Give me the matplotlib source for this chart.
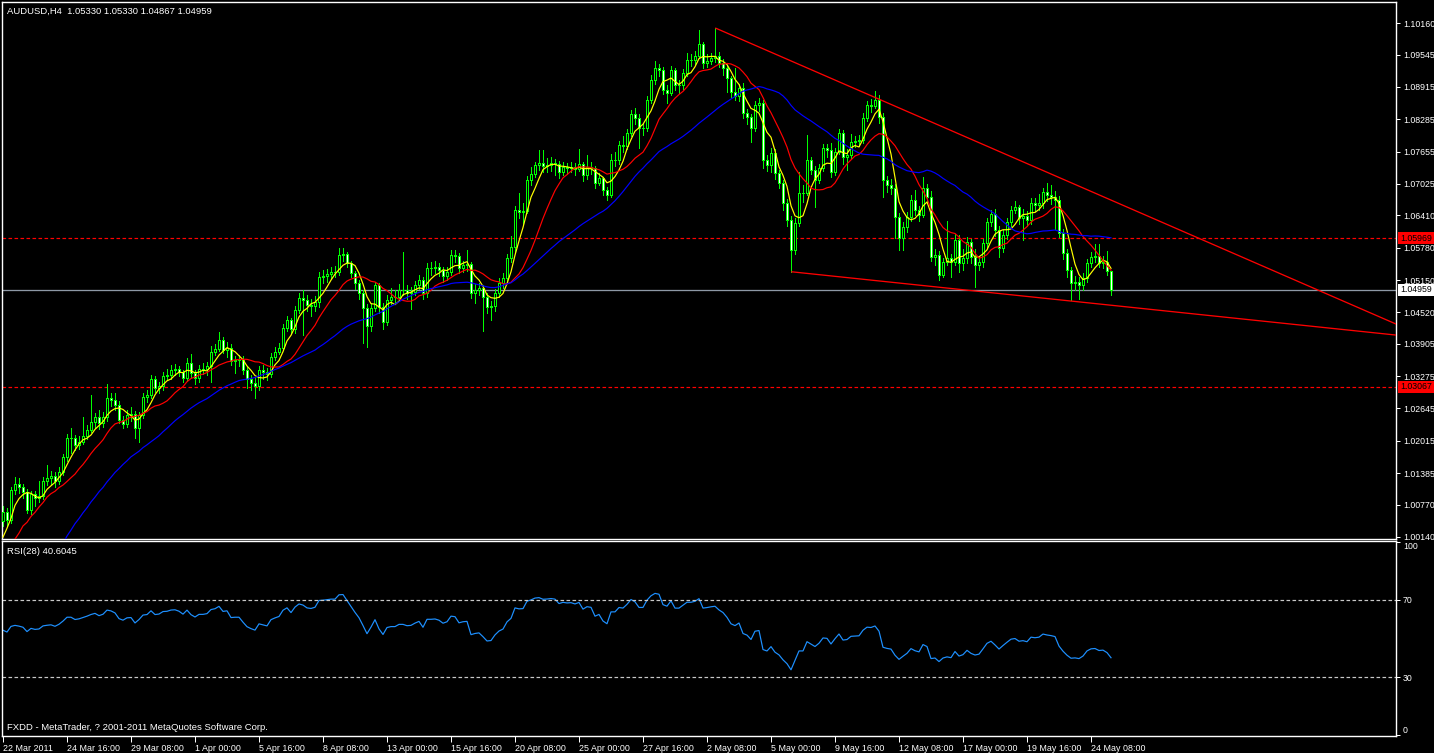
import numpy as np
import pandas as pd
import matplotlib
matplotlib.use("Agg")
import matplotlib.pyplot as plt
from matplotlib import font_manager
from matplotlib.transforms import blended_transform_factory

# ── Data (AUDUSD H4, 22 Mar - 25 May 2011) ───────────────────────────────────

SYMBOL = "AUDUSD,H4"
first_open = 1.0045

# closes before the first visible bar (needed for MA / RSI warm-up, off-screen)
pre_close = [
    1.0180, 1.0195, 1.0170, 1.0150, 1.0135, 1.0120,
    1.0100, 1.0070, 1.0045, 1.0050, 1.0025, 1.0005,
    0.9990, 0.9970, 0.9950, 0.9930, 0.9945, 0.9925,
    0.9900, 0.9920, 0.9935, 0.9950, 0.9940, 0.9960,
    0.9980, 0.9965, 0.9950, 0.9940, 0.9925, 0.9910,
    0.9860, 0.9820, 0.9790, 0.9830, 0.9850, 0.9870,
    0.9860, 0.9840, 0.9810, 0.9790, 0.9760, 0.9740,
    0.9720, 0.9810, 0.9770, 0.9860, 0.9830, 0.9890,
    0.9850, 0.9930, 0.9880, 0.9960, 0.9920, 0.9975,
    0.9950, 0.9985, 0.9960, 1.0010, 0.9990, 1.0045,
]

close = [
    1.0063, 1.0047, 1.0106, 1.0117, 1.0111, 1.0102, 1.0067, 1.0098, 1.0090, 1.0094,
    1.0123, 1.0129, 1.0133, 1.0123, 1.0141, 1.0170, 1.0207, 1.0207, 1.0193, 1.0199,
    1.0211, 1.0223, 1.0238, 1.0248, 1.0236, 1.0248, 1.0285, 1.0281, 1.0271, 1.0242,
    1.0234, 1.0252, 1.0254, 1.0227, 1.0252, 1.0287, 1.0291, 1.0322, 1.0304, 1.0308,
    1.0328, 1.0330, 1.0340, 1.0342, 1.0336, 1.0324, 1.0353, 1.0334, 1.0324, 1.0342,
    1.0342, 1.0347, 1.0375, 1.0381, 1.0398, 1.0379, 1.0383, 1.0357, 1.0359, 1.0359,
    1.0340, 1.0322, 1.0314, 1.0308, 1.0340, 1.0336, 1.0332, 1.0365, 1.0375, 1.0383,
    1.0421, 1.0437, 1.0420, 1.0457, 1.0480, 1.0476, 1.0466, 1.0464, 1.0472, 1.0521,
    1.0523, 1.0527, 1.0531, 1.0531, 1.0564, 1.0566, 1.0548, 1.0529, 1.0509, 1.0490,
    1.0460, 1.0425, 1.0460, 1.0505, 1.0462, 1.0433, 1.0476, 1.0482, 1.0482, 1.0496,
    1.0496, 1.0490, 1.0492, 1.0505, 1.0515, 1.0490, 1.0538, 1.0538, 1.0540, 1.0535,
    1.0523, 1.0531, 1.0564, 1.0562, 1.0538, 1.0544, 1.0546, 1.0490, 1.0496, 1.0499,
    1.0482, 1.0462, 1.0464, 1.0490, 1.0509, 1.0519, 1.0558, 1.0579, 1.0652, 1.0648,
    1.0650, 1.0710, 1.0722, 1.0739, 1.0743, 1.0737, 1.0739, 1.0743, 1.0741, 1.0726,
    1.0735, 1.0733, 1.0735, 1.0731, 1.0741, 1.0720, 1.0735, 1.0733, 1.0704, 1.0714,
    1.0691, 1.0681, 1.0749, 1.0749, 1.0778, 1.0776, 1.0802, 1.0839, 1.0831, 1.0811,
    1.0811, 1.0866, 1.0905, 1.0928, 1.0925, 1.0886, 1.0880, 1.0925, 1.0895, 1.0895,
    1.0919, 1.0944, 1.0944, 1.0952, 1.0975, 1.0938, 1.0942, 1.0948, 1.0952, 1.0938,
    1.0928, 1.0909, 1.0882, 1.0874, 1.0889, 1.0841, 1.0833, 1.0811, 1.0856, 1.0860,
    1.0749, 1.0739, 1.0763, 1.0724, 1.0704, 1.0665, 1.0632, 1.0574, 1.0626, 1.0685,
    1.0685, 1.0749, 1.0730, 1.0710, 1.0733, 1.0772, 1.0769, 1.0726, 1.0765, 1.0802,
    1.0755, 1.0759, 1.0784, 1.0786, 1.0788, 1.0831, 1.0856, 1.0854, 1.0866, 1.0833,
    1.0710, 1.0700, 1.0694, 1.0638, 1.0597, 1.0618, 1.0638, 1.0671, 1.0652, 1.0642,
    1.0694, 1.0677, 1.0560, 1.0564, 1.0525, 1.0550, 1.0558, 1.0550, 1.0593, 1.0548,
    1.0558, 1.0589, 1.0560, 1.0544, 1.0550, 1.0587, 1.0628, 1.0644, 1.0613, 1.0577,
    1.0603, 1.0628, 1.0652, 1.0657, 1.0636, 1.0640, 1.0632, 1.0665, 1.0661, 1.0665,
    1.0687, 1.0681, 1.0677, 1.0671, 1.0607, 1.0568, 1.0535, 1.0509, 1.0511, 1.0505,
    1.0519, 1.0548, 1.0560, 1.0562, 1.0548, 1.0550, 1.0533, 1.04959,
]

high = [
    1.0075, 1.0070, 1.0112, 1.0130, 1.0128, 1.0118, 1.0108, 1.0104, 1.0103, 1.0124,
    1.0130, 1.0154, 1.0142, 1.0140, 1.0150, 1.0176, 1.0214, 1.0226, 1.0212, 1.0210,
    1.0248, 1.0232, 1.0291, 1.0256, 1.0262, 1.0258, 1.0312, 1.0295, 1.0294, 1.0280,
    1.0250, 1.0262, 1.0268, 1.0260, 1.0258, 1.0295, 1.0300, 1.0330, 1.0328, 1.0316,
    1.0336, 1.0342, 1.0350, 1.0352, 1.0348, 1.0340, 1.0362, 1.0371, 1.0340, 1.0350,
    1.0354, 1.0356, 1.0386, 1.0390, 1.0414, 1.0404, 1.0394, 1.0390, 1.0366, 1.0368,
    1.0366, 1.0345, 1.0330, 1.0325, 1.0348, 1.0350, 1.0344, 1.0372, 1.0384, 1.0392,
    1.0430, 1.0445, 1.0440, 1.0465, 1.0490, 1.0495, 1.0485, 1.0478, 1.0484, 1.0530,
    1.0534, 1.0536, 1.0540, 1.0542, 1.0577, 1.0577, 1.0570, 1.0552, 1.0533, 1.0515,
    1.0495, 1.0468, 1.0470, 1.0512, 1.0510, 1.0470, 1.0485, 1.0500, 1.0495, 1.0508,
    1.0570, 1.0505, 1.0502, 1.0514, 1.0524, 1.0520, 1.0548, 1.0550, 1.0552, 1.0548,
    1.0540, 1.0540, 1.0574, 1.0574, 1.0568, 1.0552, 1.0574, 1.0550, 1.0508, 1.0510,
    1.0505, 1.0490, 1.0475, 1.0498, 1.0518, 1.0528, 1.0566, 1.0600, 1.0660, 1.0684,
    1.0665, 1.0718, 1.0735, 1.0746, 1.0768, 1.0768, 1.0752, 1.0755, 1.0750, 1.0748,
    1.0745, 1.0744, 1.0746, 1.0744, 1.0770, 1.0746, 1.0758, 1.0745, 1.0738, 1.0724,
    1.0716, 1.0696, 1.0760, 1.0765, 1.0786, 1.0795, 1.0810, 1.0847, 1.0850, 1.0838,
    1.0822, 1.0874, 1.0915, 1.0942, 1.0936, 1.0930, 1.0895, 1.0932, 1.0928, 1.0905,
    1.0926, 1.0958, 1.0955, 1.0962, 1.1003, 1.0980, 1.0955, 1.0958, 1.1006, 1.0960,
    1.0945, 1.0932, 1.0912, 1.0928, 1.0898, 1.0900, 1.0848, 1.0838, 1.0864, 1.0870,
    1.0866, 1.0758, 1.0772, 1.0770, 1.0730, 1.0710, 1.0672, 1.0640, 1.0635, 1.0726,
    1.0700, 1.0797, 1.0755, 1.0738, 1.0742, 1.0780, 1.0780, 1.0782, 1.0772, 1.0810,
    1.0808, 1.0770, 1.0800, 1.0796, 1.0798, 1.0840, 1.0865, 1.0868, 1.0884, 1.0875,
    1.0840, 1.0718, 1.0712, 1.0702, 1.0645, 1.0628, 1.0648, 1.0680, 1.0690, 1.0660,
    1.0716, 1.0702, 1.0688, 1.0575, 1.0572, 1.0558, 1.0630, 1.0566, 1.0605, 1.0602,
    1.0575, 1.0598, 1.0595, 1.0575, 1.0562, 1.0595, 1.0636, 1.0652, 1.0654, 1.0620,
    1.0612, 1.0636, 1.0660, 1.0670, 1.0662, 1.0654, 1.0650, 1.0674, 1.0675, 1.0682,
    1.0695, 1.0705, 1.0700, 1.0688, 1.0678, 1.0615, 1.0575, 1.0540, 1.0522, 1.0520,
    1.0528, 1.0556, 1.0570, 1.0585, 1.0585, 1.0562, 1.0572, 1.05330,
]

low = [
    1.0035, 1.0035, 1.0041, 1.0098, 1.0100, 1.0090, 1.0060, 1.0058, 1.0075, 1.0082,
    1.0088, 1.0115, 1.0118, 1.0112, 1.0118, 1.0135, 1.0162, 1.0178, 1.0184, 1.0186,
    1.0196, 1.0205, 1.0218, 1.0226, 1.0225, 1.0228, 1.0240, 1.0270, 1.0262, 1.0236,
    1.0226, 1.0228, 1.0240, 1.0207, 1.0199, 1.0245, 1.0278, 1.0284, 1.0296, 1.0295,
    1.0300, 1.0320, 1.0322, 1.0330, 1.0328, 1.0316, 1.0318, 1.0326, 1.0312, 1.0316,
    1.0332, 1.0330, 1.0316, 1.0368, 1.0376, 1.0372, 1.0365, 1.0350, 1.0334, 1.0348,
    1.0332, 1.0304, 1.0300, 1.0285, 1.0300, 1.0322, 1.0320, 1.0325, 1.0360, 1.0370,
    1.0378, 1.0415, 1.0412, 1.0412, 1.0450, 1.0408, 1.0455, 1.0445, 1.0455, 1.0462,
    1.0510, 1.0512, 1.0518, 1.0520, 1.0525, 1.0552, 1.0540, 1.0520, 1.0498, 1.0478,
    1.0392, 1.0384, 1.0415, 1.0455, 1.0450, 1.0420, 1.0428, 1.0468, 1.0470, 1.0475,
    1.0485, 1.0478, 1.0458, 1.0485, 1.0498, 1.0478, 1.0482, 1.0525, 1.0528, 1.0522,
    1.0512, 1.0515, 1.0525, 1.0550, 1.0528, 1.0530, 1.0532, 1.0480, 1.0470, 1.0485,
    1.0416, 1.0450, 1.0437, 1.0455, 1.0482, 1.0500, 1.0512, 1.0550, 1.0570, 1.0636,
    1.0622, 1.0645, 1.0700, 1.0715, 1.0730, 1.0725, 1.0725, 1.0728, 1.0720, 1.0714,
    1.0720, 1.0722, 1.0726, 1.0720, 1.0728, 1.0708, 1.0712, 1.0722, 1.0695, 1.0700,
    1.0680, 1.0671, 1.0676, 1.0738, 1.0742, 1.0765, 1.0770, 1.0795, 1.0820, 1.0773,
    1.0798, 1.0805, 1.0860, 1.0898, 1.0912, 1.0878, 1.0860, 1.0875, 1.0885, 1.0880,
    1.0888, 1.0912, 1.0932, 1.0936, 1.0948, 1.0928, 1.0930, 1.0936, 1.0940, 1.0930,
    1.0915, 1.0882, 1.0872, 1.0866, 1.0865, 1.0830, 1.0820, 1.0784, 1.0805, 1.0845,
    1.0733, 1.0728, 1.0725, 1.0712, 1.0695, 1.0652, 1.0620, 1.0531, 1.0565, 1.0620,
    1.0668, 1.0680, 1.0722, 1.0658, 1.0705, 1.0728, 1.0755, 1.0716, 1.0720, 1.0760,
    1.0742, 1.0730, 1.0752, 1.0774, 1.0776, 1.0782, 1.0825, 1.0842, 1.0850, 1.0822,
    1.0677, 1.0686, 1.0682, 1.0597, 1.0574, 1.0574, 1.0608, 1.0630, 1.0642, 1.0630,
    1.0638, 1.0665, 1.0552, 1.0545, 1.0515, 1.0520, 1.0544, 1.0520, 1.0545, 1.0530,
    1.0535, 1.0548, 1.0548, 1.0501, 1.0535, 1.0540, 1.0580, 1.0620, 1.0600, 1.0560,
    1.0570, 1.0595, 1.0620, 1.0645, 1.0625, 1.0593, 1.0620, 1.0625, 1.0650, 1.0652,
    1.0655, 1.0670, 1.0664, 1.0615, 1.0598, 1.0555, 1.0520, 1.0476, 1.0495, 1.0478,
    1.0495, 1.0512, 1.0540, 1.0550, 1.0540, 1.0538, 1.0525, 1.04867,
]

time_labels = [
    "22 Mar 2011", "24 Mar 16:00", "29 Mar 08:00", "1 Apr 00:00", "5 Apr 16:00",
    "8 Apr 08:00", "13 Apr 00:00", "15 Apr 16:00", "20 Apr 08:00", "25 Apr 00:00",
    "27 Apr 16:00", "2 May 08:00", "5 May 00:00", "9 May 16:00", "12 May 08:00",
    "17 May 00:00", "19 May 16:00", "24 May 08:00",
]
label_every = 16   # bars between time labels

price_ticks = [1.10160, 1.09545, 1.08915, 1.08285, 1.07655, 1.07025, 1.06410, 1.05780,
               1.05150, 1.04520, 1.03905, 1.03275, 1.02645, 1.02015, 1.01385, 1.00770,
               1.00140]
price_tick_labels = ["1.10160", "1.09545", "1.08915", "1.08285", "1.07655", "1.07025",
                     "1.06410", "1.05780", "1.05150", "1.04520", "1.03905", "1.03275",
                     "1.02645", "1.02015", "1.01385", "1.00770", "1.00140"]

red_levels = [1.05969, 1.03067]
red_level_labels = ["1.05969", "1.03067"]

# trend line anchors (bar index, price); drawn as rays to the right
upper_trend_x = [178.2, 218.0]
upper_trend_y = [1.1006, 1.0871]
lower_trend_x = [197.2, 267.0]
lower_trend_y = [1.0531, 1.0474]

ma_periods = [5, 13, 34]
ma_colors = ["#FFFF00", "#FF0000", "#0000FF"]
rsi_period = 28
rsi_levels = [70, 30]
rsi_ticks = [100, 70, 30, 0]

# ── Derived series ───────────────────────────────────────────────────────────

opens = np.array([first_open] + close[:-1])
closes = np.array(close)
highs = np.maximum(np.array(high), np.maximum(opens, closes))
lows = np.minimum(np.array(low), np.minimum(opens, closes))
n = len(closes)
x = np.arange(n)

full_close = pd.Series(pre_close + close)
npre = len(pre_close)


def rsi_mt4(c, period):
    c = np.asarray(c, dtype=float)
    out = np.full(len(c), np.nan)
    d = np.diff(c)
    gain = np.where(d > 0, d, 0.0)
    loss = np.where(d < 0, -d, 0.0)
    ag, al = gain[:period].mean(), loss[:period].mean()
    out[period] = 100 - 100 / (1 + ag / al)
    for k in range(period, len(d)):
        ag = (ag * (period - 1) + gain[k]) / period
        al = (al * (period - 1) + loss[k]) / period
        out[k + 1] = 100.0 if al == 0 else 100 - 100 / (1 + ag / al)
    return out


rsi = rsi_mt4(full_close.values, rsi_period)[npre:]

# ── Fonts: narrow terminal-like text ─────────────────────────────────────────

_names = {f.name for f in font_manager.fontManager.ttflist}
if "Liberation Sans Narrow" in _names:
    FONT, SCALE = ["Liberation Sans Narrow", "DejaVu Sans"], 1.2
elif "Liberation Sans" in _names:
    FONT, SCALE = ["Liberation Sans", "DejaVu Sans"], 1.0
else:
    FONT, SCALE = ["DejaVu Sans"], 0.88
FS_TEXT = 6.8 * SCALE     # header / footer / indicator name
FS_Y = 6.3 * SCALE        # price scale
FS_X = 6.4 * SCALE        # time scale

# ── Figure ───────────────────────────────────────────────────────────────────

W, H = 1434, 753
LIME = "#00FF00"
PX = 0.72  # one pixel in points at dpi 100

fig = plt.figure(figsize=(W / 100, H / 100), dpi=100, facecolor="black")
ax = fig.add_axes([2 / W, (H - 539) / H, 1394 / W, 537 / H])
ax_r = fig.add_axes([2 / W, (H - 736) / H, 1394 / W, 195 / H], sharex=ax)

for a in (ax, ax_r):
    a.set_facecolor("black")
    for s in a.spines.values():
        s.set_color("white")
        s.set_linewidth(1.0)

xmin, xmax = -0.25, 348.25
ax.set_xlim(xmin, xmax)
ax.set_ylim(1.00100, 1.10571)

# candles
ax.vlines(x, lows, highs, color=LIME, linewidth=PX, zorder=2, antialiased=False)
bull = closes >= opens
body_lo = np.minimum(opens, closes)
body_h = np.abs(closes - opens)
ax.bar(x[bull], body_h[bull], bottom=body_lo[bull], width=0.5, color="black",
       edgecolor=LIME, linewidth=PX, zorder=3, antialiased=False)
ax.bar(x[~bull], body_h[~bull], bottom=body_lo[~bull], width=0.5, color="white",
       edgecolor=LIME, linewidth=PX, zorder=3, antialiased=False)

# moving averages
for p, col in zip(ma_periods, ma_colors):
    ma = full_close.rolling(p).mean().values[npre:]
    ax.plot(x, ma, color=col, linewidth=PX * 1.2, zorder=4)

# horizontal levels
for lv in red_levels:
    ax.axhline(lv, color="#FF0000", linewidth=PX * 1.2, linestyle=(0, (3, 2)), zorder=1)
ax.axhline(closes[-1], color="#8E99A6", linewidth=PX * 1.3, zorder=1)

# trend lines
for tx, ty in ((upper_trend_x, upper_trend_y), (lower_trend_x, lower_trend_y)):
    slope = (ty[1] - ty[0]) / (tx[1] - tx[0])
    ax.plot([tx[0], xmax], [ty[0], ty[0] + slope * (xmax - tx[0])],
            color="#FF0000", linewidth=PX * 1.3, zorder=5)

# price axis
ax.yaxis.tick_right()
ax.set_yticks(price_ticks)
ax.set_yticklabels(price_tick_labels)
ax.tick_params(axis="y", colors="white", length=3, width=PX, pad=2, labelsize=FS_Y)
for t in ax.get_yticklabels():
    t.set_family(FONT)
ax.tick_params(axis="x", bottom=False, labelbottom=False)

tr = blended_transform_factory(ax.transAxes, ax.transData)
box_x = 1.0 + 4 / 1394
for lv, lab in zip(red_levels, red_level_labels):
    ax.text(box_x, lv, lab, transform=tr, ha="left", va="center", fontsize=FS_Y,
            family=FONT, color="black", clip_on=False, zorder=10,
            bbox=dict(boxstyle="square,pad=0.2", facecolor="#FF0000", edgecolor="none"))
ax.text(box_x, closes[-1], f"{closes[-1]:.5f}", transform=tr, ha="left",
        va="center", fontsize=FS_Y, family=FONT, color="black", clip_on=False, zorder=10,
        bbox=dict(boxstyle="square,pad=0.2", facecolor="white", edgecolor="none"))

# ── RSI panel ────────────────────────────────────────────────────────────────

ax_r.plot(x, rsi, color="#1E90FF", linewidth=PX * 1.2)
for lv in rsi_levels:
    ax_r.axhline(lv, color="#C8C8C8", linewidth=PX * 1.2, linestyle=(0, (3, 2)))
ax_r.set_ylim(-0.4, 100.4)
ax_r.yaxis.tick_right()
ax_r.set_yticks(rsi_ticks)
ax_r.set_yticklabels([str(v) for v in rsi_ticks])
ax_r.tick_params(axis="y", colors="white", length=3, width=PX, pad=2, labelsize=FS_Y)
for t, v in zip(ax_r.get_yticklabels(), rsi_ticks):
    t.set_family(FONT)
    if v == 100:
        t.set_va("top")
    elif v == 0:
        t.set_va("bottom")

ax_r.set_xticks(np.arange(len(time_labels)) * label_every)
ax_r.set_xticklabels(time_labels, ha="left")
ax_r.tick_params(axis="x", colors="white", length=4, width=PX, pad=1.5, labelsize=FS_X)
for t in ax_r.get_xticklabels():
    t.set_family(FONT)

# ── Texts ────────────────────────────────────────────────────────────────────

fig.text(7 / W, 1 - 11 / H,
         f"{SYMBOL}  {opens[-1]:.5f} {highs[-1]:.5f} {lows[-1]:.5f} {closes[-1]:.5f}",
         color="white", fontsize=FS_TEXT, family=FONT, ha="left", va="center")
fig.text(7 / W, 1 - 551 / H, "RSI(28) 40.6045", color="white", fontsize=FS_TEXT,
         family=FONT, ha="left", va="center")
fig.text(7 / W, 1 - 728 / H, "FXDD - MetaTrader, ? 2001-2011 MetaQuotes Software Corp.",
         color="white", fontsize=FS_TEXT, family=FONT, ha="left", va="center")

fig.savefig("out.png", dpi=100, facecolor="black")
